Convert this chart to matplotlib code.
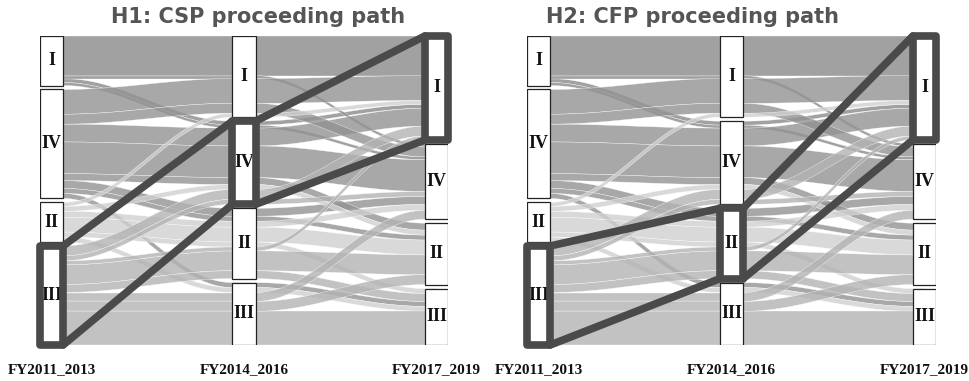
import numpy as np
import matplotlib.pyplot as plt
from matplotlib.patches import Rectangle, Polygon

# ---------------- data ----------------
categories = ['I', 'IV', 'II', 'III']          # order top -> bottom
stages = ['FY2011_2013', 'FY2014_2016', 'FY2017_2019']

# alluvia: category at each stage and number of firms following that path
path_from = ['I', 'I', 'I', 'I',
             'IV', 'IV', 'IV', 'IV', 'IV', 'IV', 'IV', 'IV',
             'II', 'II', 'II', 'II', 'II', 'II',
             'III', 'III', 'III', 'III', 'III', 'III', 'III', 'III']
path_mid = ['I', 'IV', 'IV', 'I',
            'I', 'IV', 'IV', 'II', 'I', 'IV', 'II', 'III',
            'II', 'IV', 'II', 'I', 'III', 'II',
            'III', 'II', 'IV', 'II', 'III', 'IV', 'II', 'III']
path_to = ['I', 'I', 'IV', 'IV',
           'I', 'I', 'IV', 'IV', 'IV', 'II', 'II', 'III',
           'II', 'II', 'IV', 'I', 'III', 'III',
           'III', 'II', 'I', 'III', 'II', 'IV', 'I', 'IV']
path_count = [40, 4, 3, 3,
              25, 18, 32, 8, 10, 7, 5, 5,
              15, 5, 6, 4, 5, 5,
              34, 20, 10, 8, 10, 5, 4, 9]

panel_titles = ['H1: CSP proceeding path', 'H2: CFP proceeding path']
highlight_paths = [['III', 'IV', 'I'], ['III', 'II', 'I']]

# ---------------- styling ----------------
flow_colors = {'I': '#8a8a8a', 'IV': '#929292', 'II': '#d0d0d0', 'III': '#b3b3b3'}
hl_color = '#4a4a4a'
gap = 4.0
node_w = 0.12

W, H = 970, 381
fig = plt.figure(figsize=(W / 100, H / 100), dpi=100)

cat_idx = {c: i for i, c in enumerate(categories)}
n = len(path_count)
paths = [(cat_idx[path_from[i]], cat_idx[path_mid[i]], cat_idx[path_to[i]], path_count[i]) for i in range(n)]
total = sum(path_count) + gap * (len(categories) - 1)


def node_layout(stage):
    sizes = np.zeros(len(categories))
    for p in paths:
        sizes[p[stage]] += p[3]
    tops, y = [], 0.0
    for s in sizes:
        tops.append(y)
        y += s + gap
    return np.array(tops), sizes


layouts = [node_layout(s) for s in range(3)]

# position of each alluvium inside its node at each stage
sort_keys = [lambda p: (p[0], p[1], p[2]),
             lambda p: (p[1], p[0], p[2]),
             lambda p: (p[2], p[1], p[0])]
pos = [[None] * n for _ in range(3)]
for s in range(3):
    order = sorted(range(n), key=lambda i: sort_keys[s](paths[i]))
    offset = {c: layouts[s][0][c] for c in range(len(categories))}
    for i in order:
        c = paths[i][s]
        pos[s][i] = (offset[c], offset[c] + paths[i][3])
        offset[c] += paths[i][3]

panel_px = [(40, 448), (527, 936)]
y_top_px, y_bot_px = 36, 345
title_px = [258, 693]

t = np.linspace(0, 1, 60)
ease = (1 - np.cos(np.pi * t)) / 2

for k, (x0px, x1px) in enumerate(panel_px):
    ax = fig.add_axes([x0px / W, 1 - y_bot_px / H, (x1px - x0px) / W, (y_bot_px - y_top_px) / H])
    ax.set_xlim(-node_w / 2, 2 + node_w / 2)
    ax.set_ylim(total, 0)
    ax.axis('off')

    # flows
    for i in range(n):
        col = flow_colors[categories[paths[i][0]]]
        for s in range(2):
            xa, xb = s + node_w / 2, s + 1 - node_w / 2
            xs = xa + (xb - xa) * t
            top = pos[s][i][0] + (pos[s + 1][i][0] - pos[s][i][0]) * ease
            bot = pos[s][i][1] + (pos[s + 1][i][1] - pos[s][i][1]) * ease
            xs_full = np.concatenate([[s], xs, [s + 1]])
            top_full = np.concatenate([[top[0]], top, [top[-1]]])
            bot_full = np.concatenate([[bot[0]], bot, [bot[-1]]])
            verts = np.column_stack([np.concatenate([xs_full, xs_full[::-1]]),
                                     np.concatenate([top_full, bot_full[::-1]])])
            ax.add_patch(Polygon(verts, closed=True, facecolor=col, alpha=0.8,
                                 edgecolor='white', linewidth=0.3, zorder=1))

    # nodes
    for s in range(3):
        tops, sizes = layouts[s]
        for c in range(len(categories)):
            ax.add_patch(Rectangle((s - node_w / 2, tops[c]), node_w, sizes[c],
                                   facecolor='white', edgecolor='#222222', linewidth=0.9, zorder=3))
            ax.text(s, tops[c] + sizes[c] / 2, categories[c], ha='center', va='center',
                    fontsize=13, fontweight='bold', family='Liberation Serif', color='#111111', zorder=4)

    # highlighted path
    hp = [cat_idx[c] for c in highlight_paths[k]]
    boxes = []
    for s in range(3):
        tops, sizes = layouts[s]
        boxes.append((tops[hp[s]], tops[hp[s]] + sizes[hp[s]]))
        ax.add_patch(Rectangle((s - node_w / 2, tops[hp[s]]), node_w, sizes[hp[s]],
                               facecolor='none', edgecolor=hl_color, linewidth=5.5,
                               joinstyle='round', zorder=5, clip_on=False))
    for s in range(2):
        for e in range(2):
            ax.plot([s + node_w / 2, s + 1 - node_w / 2], [boxes[s][e], boxes[s + 1][e]],
                    color=hl_color, linewidth=5.5, solid_capstyle='round', zorder=5, clip_on=False)

    fig.text(title_px[k] / W, 1 - 17 / H, panel_titles[k], ha='center', va='center',
             fontsize=15, fontweight='bold', color='#555555', family='DejaVu Sans')

    for s in range(3):
        xc = x0px + (s + node_w / 2) / (2 + node_w) * (x1px - x0px)
        fig.text(xc / W, 1 - 370 / H, stages[s], ha='center', va='center',
                 fontsize=11, fontweight='bold', family='Liberation Serif', color='#111111')

fig.savefig('out.png', dpi=100)
